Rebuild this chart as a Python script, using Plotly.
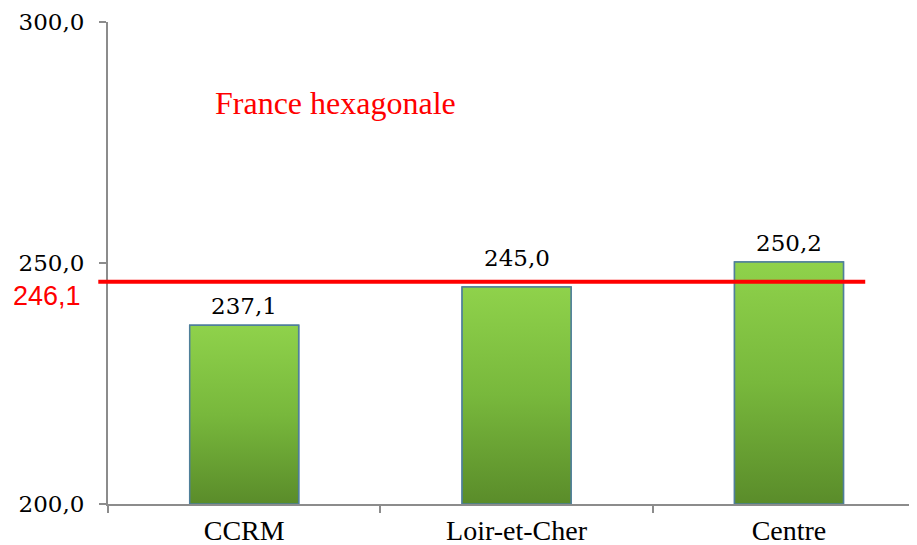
import plotly.graph_objects as go

categories = ["CCRM", "Loir-et-Cher", "Centre"]
values = [237.1, 245.0, 250.2]
reference_value = 246.1
reference_label = "France hexagonale"
y_ticks = [200, 250, 300]

Y_MIN, Y_MAX = 200, 300
BAR_W = 0.4
X_RANGE = [-0.5, 2.47]
LABEL_LIFT = [4, 14, 4]  # extra pixel lift of each value label (style only)

fig = go.Figure()
fig.add_trace(go.Bar(
    x=categories, y=values, width=BAR_W,
    marker=dict(color="#7CBA40", line=dict(color="#4F7F9A", width=1.5)),
    hoverinfo="skip",
))
# gradient overlay for each bar, on an overlaid numeric axis
for i, v in enumerate(values):
    fig.add_trace(go.Scatter(
        x=[i - BAR_W / 2, i + BAR_W / 2, i + BAR_W / 2, i - BAR_W / 2, i - BAR_W / 2],
        y=[Y_MIN, Y_MIN, v, v, Y_MIN],
        xaxis="x2", yaxis="y", mode="lines", fill="toself",
        line=dict(color="#4F7F9A", width=1.5),
        fillgradient=dict(type="vertical", start=Y_MIN, stop=v,
                          colorscale=[[0, "#5A8C2A"], [0.5, "#78B83C"], [1, "#8FD24B"]]),
        hoverinfo="skip",
    ))
    fig.add_annotation(x=i, y=v, xref="x2", yref="y",
                       text=f"{v:.1f}".replace(".", ","), showarrow=False,
                       yanchor="bottom", yshift=LABEL_LIFT[i],
                       font=dict(family="DejaVu Serif", size=23, color="black"))

fig.add_shape(type="line", xref="paper", yref="y",
              x0=-0.012, x1=0.936, y0=reference_value, y1=reference_value,
              line=dict(color="#FF0000", width=4))
fig.add_annotation(xref="paper", yref="y", x=-0.031, y=reference_value,
                   text=f"{reference_value:.1f}".replace(".", ","),
                   showarrow=False, xanchor="right", yanchor="top", yshift=3,
                   font=dict(family="Liberation Sans", size=27, color="#FF0000"))
fig.add_annotation(xref="paper", yref="y", x=0.13, y=283.2,
                   text=reference_label, showarrow=False, xanchor="left",
                   font=dict(family="Liberation Serif", size=32, color="#FF0000"))

# page body has an 8px default margin; size the figure to fill the rest of the window
fig.update_layout(
    width=909, height=537,
    margin=dict(l=100, r=0, t=14, b=41),
    paper_bgcolor="white", plot_bgcolor="white",
    separators=", ",
    showlegend=False,
    xaxis2=dict(overlaying="x", range=X_RANGE, visible=False),
)
fig.update_yaxes(range=[Y_MIN, Y_MAX], tickvals=y_ticks, tickformat=".1f",
                 showgrid=False, zeroline=False, automargin=False,
                 ticklabeloverflow="allow", ticklabelstandoff=10,
                 showline=True, linecolor="#8C8C8C", linewidth=2,
                 ticks="outside", ticklen=7, tickcolor="#8C8C8C", tickwidth=1.5,
                 tickfont=dict(family="DejaVu Serif", size=23, color="black"))
fig.layout.xaxis.update(range=X_RANGE, showgrid=False, zeroline=False, automargin=False,
                        showline=True, linecolor="#8C8C8C", linewidth=2,
                        ticks="outside", ticklen=7, tickcolor="#8C8C8C", tickwidth=1.5,
                        tickson="boundaries",
                        tickfont=dict(family="Liberation Serif", size=28, color="black"))

fig.write_html("out.html")
